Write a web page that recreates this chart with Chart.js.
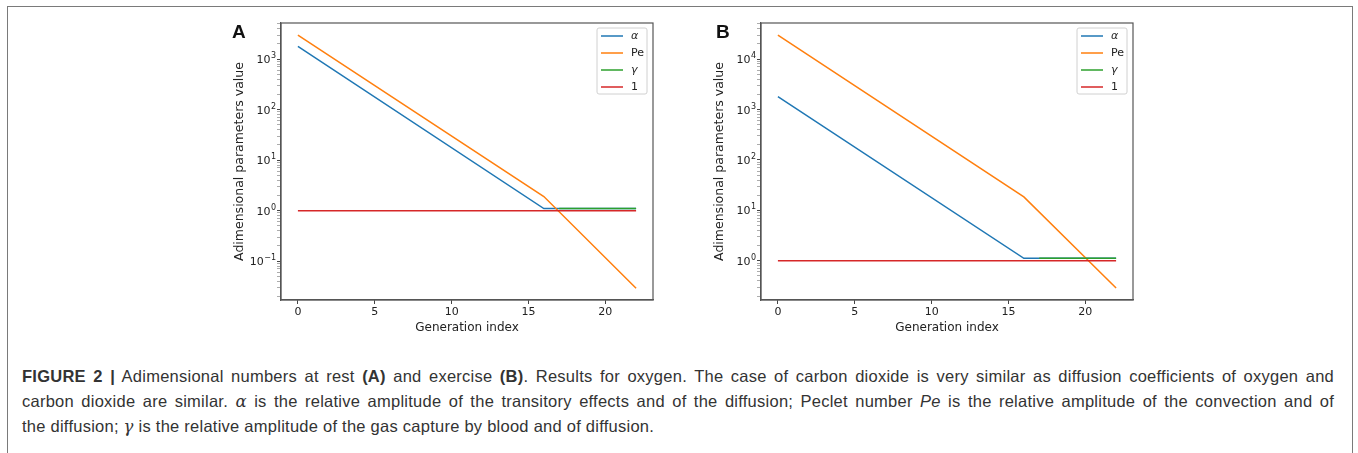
<!DOCTYPE html>
<html>
<head>
<meta charset="utf-8">
<script src="https://cdn.jsdelivr.net/npm/chart.js@4.4.1/dist/chart.umd.min.js"></script>
<style>
  body { margin: 0; background: #fff; width: 1358px; height: 453px; overflow: hidden; position: relative; }
  #frame { position: absolute; left: 7px; top: 6px; width: 1344px; height: 470px; border: 1.5px solid #7a7a7a; border-bottom: none; }
  .panel { position: absolute; top: 10px; }
  #panelA { left: 229px; }
  #panelB { left: 709px; }
  .tag { position: absolute; top: 22px; font: bold 19px "Liberation Sans", Arial, sans-serif; line-height: 19px; color: #111; }
  #caption { position: absolute; left: 22px; top: 364px; width: 1312px; font-family: "Liberation Sans", Arial, sans-serif; font-size: 16.5px; letter-spacing: 0.25px; line-height: 24.5px; color: #333; }
  #caption .j { text-align: justify; text-align-last: justify; white-space: nowrap; }
  .m { font-family: "DejaVu Serif", serif; font-style: italic; }
</style>
</head>
<body>
<div id="frame"></div>
<canvas id="panelA" class="panel" width="451" height="330"></canvas>
<canvas id="panelB" class="panel" width="451" height="330"></canvas>
<div class="tag" style="left:232px">A</div>
<div class="tag" style="left:716px">B</div>
<div id="caption">
  <div class="j"><b>FIGURE 2 |</b> Adimensional numbers at rest <b>(A)</b> and exercise <b>(B)</b>. Results for oxygen. The case of carbon dioxide is very similar as diffusion coefficients of oxygen and</div>
  <div class="j">carbon dioxide are similar. <span class="m">α</span> is the relative amplitude of the transitory effects and of the diffusion; Peclet number <i>Pe</i> is the relative amplitude of the convection and of</div>
  <div>the diffusion; <span class="m">γ</span> is the relative amplitude of the gas capture by blood and of diffusion.</div>
</div>
<script>
// generation index of the line vertices
const alphaGen = [0, 16, 22];
const alphaRest = [1800, 1.1, 1.1];
const alphaExercise = [1800, 1.12, 1.12];

const peGen = [0, 16, 22];
const peRest = [3000, 1.9, 0.029];
const peExercise = [30000, 18.5, 0.29];

const gammaGen = [17, 22];
const gammaRest = [1.1, 1.1];
const gammaExercise = [1.12, 1.12];

const oneGen = [0, 22];
const oneValues = [1, 1];

const seriesLabels = ['α', 'Pe', 'γ', '1'];

const xTicks = [0, 5, 10, 15, 20];
// y tick labels are 10^exp
const yExpRest = [-1, 0, 1, 2, 3];
const yExpExercise = [0, 1, 2, 3, 4];

const colors = ['#1f77b4', '#ff7f0e', '#2ca02c', '#d62728'];
const tickFont = { family: 'DejaVu Sans', size: 11 };
const titleFont = { family: 'DejaVu Sans', size: 12 };

function pts(xs, ys) {
    return xs.map((x, i) => ({ x: x, y: ys[i] }));
}

// box round the plot, 10^n tick labels, legend in upper right corner
const boxPlugin = {
    id: 'boxLegend',
    afterDraw(chart, args, opts) {
        const ctx = chart.ctx;
        const a = chart.chartArea;
        const ys = chart.scales.y;
        ctx.save();
        ctx.strokeStyle = '#555';
        ctx.lineWidth = 1.2;
        ctx.strokeRect(a.left, a.top, a.right - a.left, a.bottom - a.top);

        // power of ten labels
        ctx.fillStyle = '#222';
        ctx.textBaseline = 'alphabetic';
        opts.exps.forEach(e => {
            const py = ys.getPixelForValue(Math.pow(10, e));
            const sup = String(e).replace('-', '−');
            ctx.font = '8px "DejaVu Sans"';
            const sw = ctx.measureText(sup).width;
            ctx.textAlign = 'right';
            ctx.fillText(sup, a.left - 5, py - 1);
            ctx.font = '11px "DejaVu Sans"';
            ctx.fillText('10', a.left - 5 - sw - 0.5, py + 4);
        });

        const w = 50, h = 66;
        const bx = a.right - 6 - w, by = a.top + 5;
        ctx.beginPath();
        ctx.roundRect(bx, by, w, h, 2);
        ctx.fillStyle = 'rgba(255,255,255,0.8)';
        ctx.fill();
        ctx.strokeStyle = '#d0d0d0';
        ctx.lineWidth = 1;
        ctx.stroke();

        ctx.textAlign = 'left';
        chart.data.datasets.forEach((ds, i) => {
            const y = by + 8 + i * 17;
            ctx.beginPath();
            ctx.moveTo(bx + 4, y);
            ctx.lineTo(bx + 26, y);
            ctx.strokeStyle = ds.borderColor;
            ctx.lineWidth = 1.5;
            ctx.stroke();
            const greek = ds.label === 'α' || ds.label === 'γ';
            ctx.font = (greek ? 'italic ' : '') + '11px "DejaVu Sans"';
            ctx.fillStyle = '#222';
            ctx.textBaseline = 'middle';
            ctx.fillText(ds.label, bx + 34, y);
        });
        ctx.restore();
    }
};

function makePanel(id, alpha, pe, gamma, yMin, yMax, yExp) {
    const orders = [3, 2, 1, 0];
    const sets = [pts(alphaGen, alpha), pts(peGen, pe), pts(gammaGen, gamma), pts(oneGen, oneValues)];
    return new Chart(document.getElementById(id), {
        type: 'line',
        data: {
            datasets: sets.map((d, i) => ({
                label: seriesLabels[i],
                data: d,
                borderColor: colors[i],
                borderWidth: 1.5,
                pointRadius: 0,
                tension: 0,
                order: orders[i]
            }))
        },
        options: {
            responsive: false,
            animation: false,
            events: [],
            layout: { padding: { top: 13, right: 27, left: 0, bottom: 0 } },
            plugins: { legend: { display: false }, tooltip: { enabled: false }, boxLegend: { exps: yExp } },
            scales: {
                x: {
                    type: 'linear',
                    min: -1.1,
                    max: 23.1,
                    afterBuildTicks: s => { s.ticks = xTicks.map(v => ({ value: v })); },
                    afterFit: s => { s.height = 40; },
                    grid: { drawOnChartArea: false, tickLength: 4, color: '#444' },
                    border: { color: '#555', width: 1.2 },
                    ticks: { color: '#222', font: tickFont, padding: 2, maxRotation: 0, autoSkip: false },
                    title: { display: true, text: 'Generation index', color: '#222', font: titleFont, padding: { top: 0, bottom: 5 } }
                },
                y: {
                    type: 'logarithmic',
                    min: yMin,
                    max: yMax,
                    afterBuildTicks: s => {
                        const t = [];
                        for (let e = Math.floor(Math.log10(yMin)); e <= Math.ceil(Math.log10(yMax)); e++) {
                            for (let k = 1; k <= 9; k++) {
                                const v = k * Math.pow(10, e);
                                if (v >= yMin && v <= yMax) t.push({ value: v, major: k === 1 });
                            }
                        }
                        s.ticks = t;
                    },
                    afterFit: s => { s.width = 52; },
                    grid: {
                        drawOnChartArea: false,
                        tickLength: 4,
                        tickColor: c => (c.tick && c.tick.major ? '#444' : '#888'),
                        tickWidth: c => (c.tick && c.tick.major ? 1 : 0.7)
                    },
                    border: { color: '#555', width: 1.2 },
                    ticks: { font: tickFont, padding: 1, autoSkip: false, callback: () => '' },
                    title: { display: true, text: 'Adimensional parameters value', color: '#222', font: { family: 'DejaVu Sans', size: 12.5 }, padding: { top: 3.5, bottom: 0 } }
                }
            }
        },
        plugins: [boxPlugin]
    });
}

makePanel('panelA', alphaRest, peRest, gammaRest, 0.017, 5200, yExpRest);
makePanel('panelB', alphaExercise, peExercise, gammaExercise, 0.167, 52000, yExpExercise);
</script>
</body>
</html>
